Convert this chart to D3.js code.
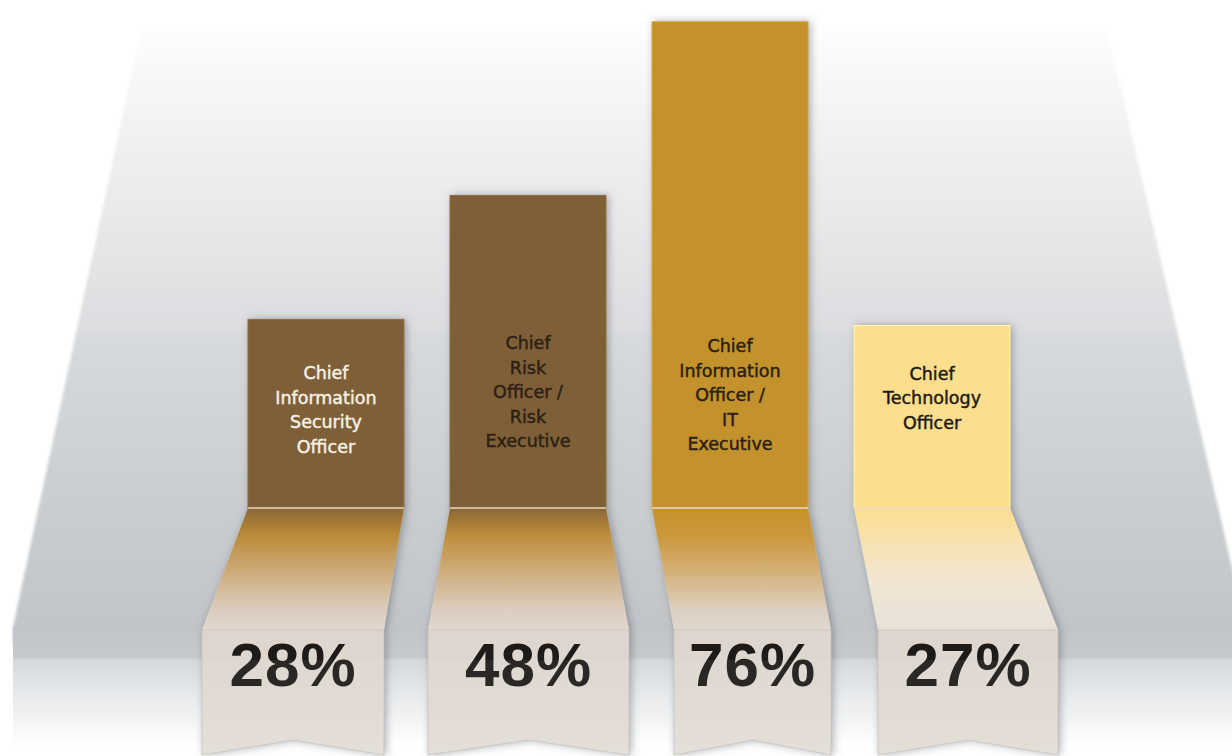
<!DOCTYPE html>
<html>
<head>
<meta charset="utf-8">
<script src="https://cdn.jsdelivr.net/npm/d3@7"></script>
<style>
  html, body { margin: 0; padding: 0; background: #ffffff; }
  svg { display: block; }
</style>
</head>
<body>
<div id="chart"></div>
<script>
// ---- data ----
const categories = [
  "Chief Information Security Officer",
  "Chief Risk Officer / Risk Executive",
  "Chief Information Officer / IT Executive",
  "Chief Technology Officer"
];
const values = [28, 48, 76, 27];
const labelLines = [
  ["Chief", "Information", "Security", "Officer"],
  ["Chief", "Risk", "Officer /", "Risk", "Executive"],
  ["Chief", "Information", "Officer /", "IT", "Executive"],
  ["Chief", "Technology", "Officer"]
];

// ---- styles ----
const barFill   = ["#7f5f37", "#7f5f37", "#c4922d", "#fcde8e"];
const textFill  = ["#f7f1e4", "#2b2114", "#2a2112", "#1f1a14"];
const slantStops = [
  ["#8a6736", "#b98a38", "#cfae80", "#dccfc1", "#e0d7ce"],
  ["#8a6736", "#bd8d3a", "#d0b084", "#dccfc1", "#e0d7ce"],
  ["#c79328", "#ca973a", "#d5b37f", "#ddd1c3", "#dfd7cf"],
  ["#fcdf92", "#f9e1a8", "#f2e6cf", "#ece3d8", "#e9e1d7"]
];
// how far each ribbon's lower panel swings out from the bar column [left edge, right edge]
const flare = [[-46, -20], [-22, 23], [22, 23], [24, 48]];
// vertical centre of each column's caption block
const captionCenter = [410, 392, 395, 398];

const W = 1232, H = 756;
const foldY = 508, slantEnd = 630, boxBottom = 755, notch = 15;

const svg = d3.select("#chart").append("svg")
  .attr("width", W).attr("height", H)
  .attr("viewBox", [0, 0, W, H]);

const defs = svg.append("defs");

// backdrop gradient
const bg = defs.append("linearGradient").attr("id", "bgGrad")
  .attr("gradientUnits", "userSpaceOnUse")
  .attr("x1", 0).attr("y1", 20).attr("x2", 0).attr("y2", 627);
[[0, "#ffffff"], [0.07, "#f9f9f9"], [0.22, "#efeff0"], [0.51, "#dddde0"],
 [0.52, "#d7dadd"], [0.8, "#c9cdd0"], [1, "#c1c5c9"]]
  .forEach(([o, c]) => bg.append("stop").attr("offset", o).attr("stop-color", c));

const fl = defs.append("linearGradient").attr("id", "floorGrad")
  .attr("gradientUnits", "userSpaceOnUse")
  .attr("x1", 0).attr("y1", 627).attr("x2", 0).attr("y2", 745);
[[0, "#c1c5c9"], [0.26, "#c6cacd"], [0.27, "#d3d6d9"], [0.6, "#e8eaec"], [1, "#ffffff"]]
  .forEach(([o, c]) => fl.append("stop").attr("offset", o).attr("stop-color", c));

const soft = defs.append("filter").attr("id", "soft")
  .attr("x", "-5%").attr("y", "-5%").attr("width", "110%").attr("height", "110%");
soft.append("feGaussianBlur").attr("stdDeviation", 1.6);

const shadow = defs.append("filter").attr("id", "shadow")
  .attr("x", "-20%").attr("y", "-10%").attr("width", "140%").attr("height", "120%");
shadow.append("feDropShadow").attr("dx", 2).attr("dy", 0).attr("stdDeviation", 4)
  .attr("flood-color", "#5a6068").attr("flood-opacity", 0.55);

const boxGrad = defs.append("linearGradient").attr("id", "boxGrad")
  .attr("x1", 0).attr("y1", 0).attr("x2", 0).attr("y2", 1);
[[0, "#ddd5ce"], [0.5, "#dfd8d1"], [1, "#e3ddd6"]]
  .forEach(([o, c]) => boxGrad.append("stop").attr("offset", o).attr("stop-color", c));

slantStops.forEach((stops, i) => {
  const g = defs.append("linearGradient").attr("id", "slant" + i)
    .attr("x1", 0).attr("y1", 0).attr("x2", 0).attr("y2", 1);
  [0, 0.22, 0.55, 0.85, 1].forEach((o, k) =>
    g.append("stop").attr("offset", o).attr("stop-color", stops[k]));
});

// ---- backdrop ----
svg.append("path")
  .attr("d", d3.line()([[143, 20], [1105, 20], [1250, 645], [13, 645], [13, 627]]) + "Z")
  .attr("fill", "url(#bgGrad)")
  .attr("filter", "url(#soft)");
svg.append("rect")
  .attr("x", 13).attr("y", 627).attr("width", W).attr("height", 118)
  .attr("fill", "url(#floorGrad)");

// ---- scales ----
const x = d3.scaleBand().domain(categories).range([248, 1010])
  .paddingInner(0.228).paddingOuter(0);
const y = d3.scaleLinear().domain([0, 100]).range([493, -127]);

const bars = svg.append("g").selectAll("g.bar")
  .data(categories.map((c, i) => ({ c, i, v: values[i], lines: labelLines[i] })))
  .join("g").attr("class", "bar");

// ribbon silhouette (casts the shadow)
function ribbonOutline(d) {
  const x0 = x(d.c), x1 = x0 + x.bandwidth();
  const [dl, dr] = flare[d.i];
  const bl = x0 + dl, br = x1 + dr, mid = (bl + br) / 2;
  return d3.line()([
    [x0, y(d.v)], [x1, y(d.v)], [x1, foldY], [br, slantEnd], [br, boxBottom],
    [mid, boxBottom - notch], [bl, boxBottom], [bl, slantEnd], [x0, foldY]
  ]) + "Z";
}
bars.append("path").attr("d", ribbonOutline)
  .attr("fill", "#d8d0c8").attr("filter", "url(#shadow)");

// upright column
bars.append("rect")
  .attr("x", d => x(d.c)).attr("y", d => y(d.v))
  .attr("width", x.bandwidth()).attr("height", d => foldY - y(d.v))
  .attr("fill", d => barFill[d.i])
  .attr("stroke", d => d3.color(barFill[d.i]).brighter(0.35))
  .attr("stroke-width", 1);

// slanted fold
bars.append("path")
  .attr("d", d => {
    const x0 = x(d.c), x1 = x0 + x.bandwidth();
    const [dl, dr] = flare[d.i];
    return d3.line()([[x0, foldY], [x1, foldY], [x1 + dr, slantEnd], [x0 + dl, slantEnd]]) + "Z";
  })
  .attr("fill", d => `url(#slant${d.i})`);

// fold crease
bars.append("line")
  .attr("x1", d => x(d.c)).attr("x2", d => x(d.c) + x.bandwidth())
  .attr("y1", foldY).attr("y2", foldY)
  .attr("stroke", "#ead6c4").attr("stroke-width", 1.5);

// value panel with notched tail
bars.append("path")
  .attr("d", d => {
    const x0 = x(d.c), x1 = x0 + x.bandwidth();
    const [dl, dr] = flare[d.i];
    const bl = x0 + dl, br = x1 + dr, mid = (bl + br) / 2;
    return d3.line()([[bl, slantEnd], [br, slantEnd], [br, boxBottom],
      [mid, boxBottom - notch], [bl, boxBottom]]) + "Z";
  })
  .attr("fill", "url(#boxGrad)")
  .attr("stroke", "#c9c2bb").attr("stroke-width", 0.8);

// category labels
bars.each(function(d) {
  const g = d3.select(this);
  const cx = x(d.c) + x.bandwidth() / 2;
  const n = d.lines.length, lh = 24.5, center = captionCenter[d.i];
  g.append("text")
    .attr("text-anchor", "middle")
    .attr("font-family", "'DejaVu Sans', sans-serif")
    .attr("font-size", 17.5)
    .attr("fill", textFill[d.i])
    .attr("stroke", textFill[d.i])
    .attr("stroke-width", 0.45)
    .selectAll("tspan").data(d.lines).join("tspan")
    .attr("x", cx)
    .attr("y", (t, k) => center + (k - (n - 1) / 2) * lh + 6)
    .text(t => t);
});

// value labels
bars.append("text")
  .attr("x", d => {
    const [dl, dr] = flare[d.i];
    return (x(d.c) + dl + x(d.c) + x.bandwidth() + dr) / 2;
  })
  .attr("y", 686)
  .attr("text-anchor", "middle")
  .attr("font-family", "'Liberation Sans', Arial, sans-serif")
  .attr("font-weight", "bold")
  .attr("font-size", 62)
  .attr("letter-spacing", 1)
  .attr("fill", "#1e1a18")
  .text(d => d.v + "%");

// faint light band across the lower strip
svg.append("rect").attr("x", 0).attr("y", 660).attr("width", W).attr("height", H - 660)
  .attr("fill", "#ffffff").attr("opacity", 0.06).attr("pointer-events", "none");
</script>
</body>
</html>
